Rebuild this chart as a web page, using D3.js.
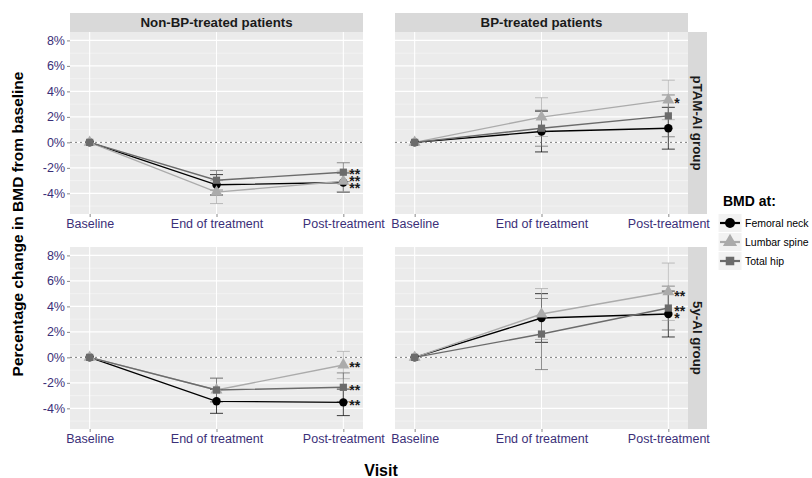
<!DOCTYPE html>
<html>
<head>
<meta charset="utf-8">
<script src="https://cdn.jsdelivr.net/npm/d3@7"></script>
<style>
  html, body { margin: 0; padding: 0; background: #fff; }
  svg { display: block; font-family: "Liberation Sans", Arial, sans-serif; }
</style>
</head>
<body>
<svg id="chart" width="812" height="478"></svg>
<script>
// Visits on the x axis, bone sites as series, facets by treatment (columns) and AI group (rows)
const visits = ["Baseline", "End of treatment", "Post-treatment"];
const sites = ["Femoral neck", "Lumbar spine", "Total hip"];
const treatments = ["Non-BP-treated patients", "BP-treated patients"];
const groups = ["pTAM-AI group", "5y-AI group"];
const yTicks = [-4, -2, 0, 2, 4, 6, 8];

// Mean % change in BMD per site (FN, LS, TH) at each visit, and CI half-widths
const pTamNonBpMean = [[0, -3.33, -3.15], [0, -3.9, -3.05], [0, -2.97, -2.34]];
const pTamNonBpErr  = [[0, 0.80, 0.75], [0, 0.90, 0.80], [0, 0.77, 0.74]];
const pTamBpMean    = [[0, 0.85, 1.11], [0, 1.98, 3.33], [0, 1.11, 2.08]];
const pTamBpErr     = [[0, 1.60, 1.64], [0, 1.52, 1.55], [0, 1.41, 1.64]];
const ai5NonBpMean  = [[0, -3.45, -3.53], [0, -2.56, -0.6], [0, -2.56, -2.35]];
const ai5NonBpErr   = [[0, 0.94, 1.04], [0, 0.90, 1.07], [0, 0.94, 1.13]];
const ai5BpMean     = [[0, 3.09, 3.40], [0, 3.40, 5.15], [0, 1.83, 3.87]];
const ai5BpErr      = [[0, 1.91, 1.80], [0, 2.00, 2.25], [0, 2.79, 1.72]];

// Significance markers at post-treatment: [row, col, label, y-value]
const sigLabels = [
  [0, 0, "**", -2.3], [0, 0, "**", -2.85], [0, 0, "**", -3.4],
  [0, 1, "*", 3.3],
  [1, 0, "**", -0.57], [1, 0, "**", -2.38], [1, 0, "**", -3.55],
  [1, 1, "**", 5.03], [1, 1, "**", 3.86], [1, 1, "*", 3.31]
];

const panelMeans = [[pTamNonBpMean, pTamBpMean], [ai5NonBpMean, ai5BpMean]];
const panelErrs = [[pTamNonBpErr, pTamBpErr], [ai5NonBpErr, ai5BpErr]];

const siteColor = d3.scaleOrdinal().domain(sites).range(["#000000", "#ababab", "#6b6b6b"]);
const siteShape = d3.scaleOrdinal().domain(sites).range([d3.symbolCircle, d3.symbolTriangle, d3.symbolSquare]);
const siteSize = d3.scaleOrdinal().domain(sites).range([56, 62, 52]);

const tickColor = "#3b2f78";
const svg = d3.select("#chart");

// Layout of facets
const colX = [70, 395];
const rowY = [32, 247];
const pw = 293, ph = 182;
const stripH = 19, stripW = 19;

const xLin = d3.scaleLinear().domain([0.845, 3.155]).range([0, pw]);
const xPos = v => xLin(visits.indexOf(v) + 1);
const y = d3.scaleLinear().domain([-5.62, 8.66]).range([ph, 0]);

const minorTicks = d3.range(-5, 9, 2);
const line = d3.line().x((d, i) => xPos(visits[i])).y(d => y(d));

treatments.forEach((tr, c) => {
  // column strip
  svg.append("rect").attr("x", colX[c]).attr("y", rowY[0] - stripH)
    .attr("width", pw).attr("height", stripH).attr("fill", "#d9d9d9");
  svg.append("text").attr("x", colX[c] + pw / 2).attr("y", rowY[0] - stripH / 2 + 4.6)
    .attr("text-anchor", "middle").attr("font-size", 13.3).attr("font-weight", "bold")
    .attr("fill", "#1a1a1a").text(tr);
});

groups.forEach((grp, r) => {
  // row strip on the right
  const sx = colX[1] + pw;
  svg.append("rect").attr("x", sx).attr("y", rowY[r]).attr("width", stripW).attr("height", ph)
    .attr("fill", "#d9d9d9");
  svg.append("text")
    .attr("transform", `translate(${sx + stripW / 2 - 4.6},${rowY[r] + ph / 2}) rotate(90)`)
    .attr("text-anchor", "middle").attr("font-size", 13.3).attr("font-weight", "bold")
    .attr("fill", "#1a1a1a").text(grp);
});

groups.forEach((grp, r) => {
  treatments.forEach((tr, c) => {
    const g = svg.append("g").attr("transform", `translate(${colX[c]},${rowY[r]})`);
    g.append("rect").attr("width", pw).attr("height", ph).attr("fill", "#ebebeb");
    // minor grid
    g.selectAll(".minor").data(minorTicks).enter().append("line")
      .attr("x1", 0).attr("x2", pw).attr("y1", d => y(d)).attr("y2", d => y(d))
      .attr("stroke", "#f7f7f7").attr("stroke-width", 0.6);
    // major grid
    g.selectAll(".major").data(yTicks).enter().append("line")
      .attr("x1", 0).attr("x2", pw).attr("y1", d => y(d)).attr("y2", d => y(d))
      .attr("stroke", "#ffffff").attr("stroke-width", 1.1);
    g.selectAll(".vgrid").data(visits).enter().append("line")
      .attr("x1", d => xPos(d)).attr("x2", d => xPos(d)).attr("y1", 0).attr("y2", ph)
      .attr("stroke", "#ffffff").attr("stroke-width", 1.1);
    // reference line at zero
    g.append("line").attr("x1", 0).attr("x2", pw).attr("y1", y(0)).attr("y2", y(0))
      .attr("stroke", "#7a7a7a").attr("stroke-width", 1).attr("stroke-dasharray", "2,3");

    // x axis
    const xa = svg.append("g").attr("transform", `translate(${colX[c]},${rowY[r] + ph})`)
      .call(d3.axisBottom(xLin).tickValues([1, 2, 3]).tickFormat(i => visits[i - 1])
        .tickSize(3).tickPadding(2));
    xa.select(".domain").remove();
    xa.selectAll(".tick line").attr("stroke", "#888");
    xa.selectAll(".tick text").attr("font-size", 12.5).attr("fill", tickColor)
      .attr("font-family", "'Liberation Sans', Arial, sans-serif");

    // y axis on the left column only
    if (c === 0) {
      const ya = svg.append("g").attr("transform", `translate(${colX[c]},${rowY[r]})`)
        .call(d3.axisLeft(y).tickValues(yTicks).tickFormat(d => d + "%").tickSize(3).tickPadding(2));
      ya.select(".domain").remove();
      ya.selectAll(".tick line").attr("stroke", "#888");
      ya.selectAll(".tick text").attr("font-size", 12.5).attr("fill", tickColor)
        .attr("font-family", "'Liberation Sans', Arial, sans-serif");
    }

    const means = panelMeans[r][c];
    const errs = panelErrs[r][c];

    // error bars
    sites.forEach((s, k) => {
      visits.forEach((v, i) => {
        const e = errs[k][i];
        if (e <= 0) return;
        const cx = xPos(v), lo = y(means[k][i] - e), hi = y(means[k][i] + e);
        const col = siteColor(s);
        g.append("line").attr("x1", cx).attr("x2", cx).attr("y1", lo).attr("y2", hi)
          .attr("stroke", col).attr("stroke-width", 1).attr("opacity", 0.75);
        [lo, hi].forEach(yy => g.append("line").attr("x1", cx - 6.5).attr("x2", cx + 6.5)
          .attr("y1", yy).attr("y2", yy).attr("stroke", col).attr("stroke-width", 1).attr("opacity", 0.75));
      });
    });

    // lines and points
    sites.forEach((s, k) => {
      g.append("path").datum(means[k]).attr("d", line).attr("fill", "none")
        .attr("stroke", siteColor(s)).attr("stroke-width", 1.4);
    });
    sites.forEach((s, k) => {
      g.selectAll(null).data(means[k]).enter().append("path")
        .attr("d", d3.symbol().type(siteShape(s)).size(siteSize(s)))
        .attr("transform", (d, i) => `translate(${xPos(visits[i])},${y(d)})`)
        .attr("fill", siteColor(s));
    });

    // significance stars
    sigLabels.filter(d => d[0] === r && d[1] === c).forEach(d => {
      g.append("text").attr("x", xPos(visits[2]) + 6).attr("y", y(d[3]) + 7.5)
        .attr("font-size", 14).attr("font-weight", "bold").attr("fill", "#1a1a1a").text(d[2]);
    });
  });
});

// axis titles
svg.append("text").attr("transform", `translate(23,224) rotate(-90)`)
  .attr("text-anchor", "middle").attr("font-size", 15.5).attr("font-weight", "bold")
  .attr("fill", "#000").text("Percentage change in BMD from baseline");
svg.append("text").attr("x", 381).attr("y", 476).attr("text-anchor", "middle")
  .attr("font-size", 16).attr("font-weight", "bold").attr("fill", "#000").text("Visit");

// legend
const lg = svg.append("g").attr("transform", "translate(718,0)");
lg.append("text").attr("x", 5).attr("y", 206).attr("font-size", 14).attr("font-weight", "bold")
  .attr("fill", "#000").text("BMD at:");
sites.forEach((s, k) => {
  const cy = 223 + k * 19;
  lg.append("rect").attr("x", 0).attr("y", cy - 9.5).attr("width", 24).attr("height", 19)
    .attr("fill", "#f2f2f2").attr("stroke", "#fff").attr("stroke-width", 1);
  lg.append("line").attr("x1", 2).attr("x2", 22).attr("y1", cy).attr("y2", cy)
    .attr("stroke", siteColor(s)).attr("stroke-width", 2.2);
  lg.append("path").attr("d", d3.symbol().type(siteShape(s)).size(siteSize(s) * 1.4))
    .attr("transform", `translate(12,${cy})`).attr("fill", siteColor(s));
  lg.append("text").attr("x", 27).attr("y", cy + 4).attr("font-size", 10.5)
    .attr("fill", "#000").text(s);
});
</script>
</body>
</html>
